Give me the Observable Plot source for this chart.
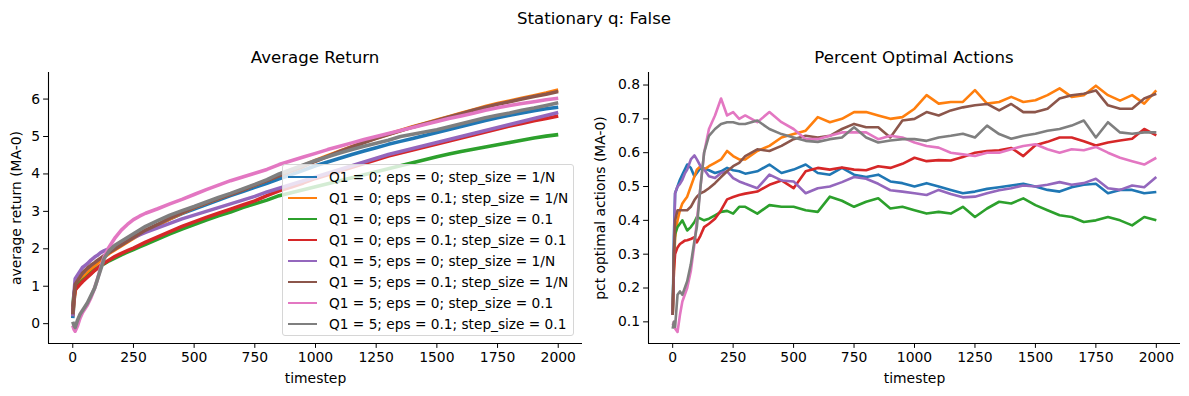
<!DOCTYPE html>
<html>
<head>
<meta charset="utf-8">
<script src="https://cdn.jsdelivr.net/npm/d3@7"></script>
<script src="https://cdn.jsdelivr.net/npm/@observablehq/plot@0.6"></script>
<style>
  html, body { margin: 0; padding: 0; background: #fff; }
  #fig { position: relative; width: 1189px; height: 396px; font-family: "DejaVu Sans", sans-serif; color: #000; overflow: hidden; }
  .abs { position: absolute; }
  .title { font-size: 16.6px; white-space: nowrap; transform: translate(-50%, -50%); }
  #legend { position: absolute; left: 282px; top: 164px; width: 290px; height: 170px; border: 1px solid #d6d6d6; border-radius: 3px; background: rgba(255,255,255,0.8); font-size: 13.7px; }
  .lrow { position: absolute; left: 0; height: 21px; display: flex; align-items: center; white-space: nowrap; }
  .lsw { width: 29px; height: 2px; margin-left: 5px; margin-right: 12px; }
</style>
</head>
<body>
<div id="fig"></div>
<script>
// ---------- data ----------
const suptitle = "Stationary q: False";
const panelTitles = ["Average Return", "Percent Optimal Actions"];
const yLabels = ["average return (MA-0)", "pct optimal actions (MA-0)"];
const xLabel = "timestep";
const seriesLabels = [
  "Q1 = 0; eps = 0; step_size = 1/N",
  "Q1 = 0; eps = 0.1; step_size = 1/N",
  "Q1 = 0; eps = 0; step_size = 0.1",
  "Q1 = 0; eps = 0.1; step_size = 0.1",
  "Q1 = 5; eps = 0; step_size = 1/N",
  "Q1 = 5; eps = 0.1; step_size = 1/N",
  "Q1 = 5; eps = 0; step_size = 0.1",
  "Q1 = 5; eps = 0.1; step_size = 0.1"
];
const seriesColors = ["#1f77b4", "#ff7f0e", "#2ca02c", "#d62728", "#9467bd", "#8c564b", "#e377c2", "#7f7f7f"];
const xTicks = [0, 250, 500, 750, 1000, 1250, 1500, 1750, 2000];
const yTicksReturn = [0, 1, 2, 3, 4, 5, 6];
const yTicksPct = [0.1, 0.2, 0.3, 0.4, 0.5, 0.6, 0.7, 0.8];

const timesteps = [0, 5, 10, 20, 30, 40, 50, 60, 75, 90, 100, 115, 130, 150, 175, 200, 225, 250, 275, 300,
  350, 400, 450, 500, 550, 600, 650, 700, 750, 800,
  850, 900, 950, 1000, 1050, 1100, 1150, 1200, 1250, 1300,
  1350, 1400, 1450, 1500, 1550, 1600, 1650, 1700, 1750, 1800,
  1850, 1900, 1950, 2000];

// average return
const retQ0e0N = [0.15, 0.6, 0.95, 1.05, 1.15, 1.25, 1.32, 1.4, 1.5, 1.58, 1.63, 1.72, 1.8, 1.9, 2.02, 2.12, 2.22, 2.32, 2.4, 2.48,
  2.64, 2.8, 2.94, 3.06, 3.18, 3.3, 3.42, 3.53, 3.64, 3.75,
  3.87, 3.98, 4.1, 4.22, 4.32, 4.42, 4.52, 4.61, 4.7, 4.79,
  4.87, 4.95, 5.03, 5.11, 5.19, 5.27, 5.35, 5.43, 5.5, 5.57,
  5.63, 5.69, 5.74, 5.78];
const retQ0e01N = [0.2, 0.6, 0.9, 1.0, 1.1, 1.2, 1.28, 1.35, 1.45, 1.55, 1.6, 1.7, 1.78, 1.88, 1.98, 2.08, 2.18, 2.28, 2.38, 2.48,
  2.64, 2.8, 2.95, 3.1, 3.22, 3.34, 3.46, 3.58, 3.7, 3.83,
  3.96, 4.09, 4.22, 4.36, 4.49, 4.61, 4.73, 4.85, 4.96, 5.06,
  5.16, 5.26, 5.35, 5.44, 5.53, 5.62, 5.71, 5.8, 5.88, 5.95,
  6.02, 6.09, 6.16, 6.24];
const retQ0e0s01 = [0.45, 0.8, 0.95, 1.0, 1.08, 1.15, 1.2, 1.26, 1.35, 1.43, 1.48, 1.55, 1.6, 1.68, 1.76, 1.84, 1.91, 1.98, 2.05, 2.12,
  2.26, 2.4, 2.53, 2.65, 2.77, 2.88, 2.98, 3.1, 3.2, 3.3,
  3.42, 3.5, 3.58, 3.66, 3.74, 3.82, 3.9, 3.98, 4.06, 4.14,
  4.22, 4.3, 4.38, 4.46, 4.53, 4.6, 4.66, 4.72, 4.78, 4.84,
  4.9, 4.96, 5.01, 5.05];
const retQ0e01s01 = [0.35, 0.7, 0.9, 0.98, 1.05, 1.12, 1.18, 1.24, 1.33, 1.42, 1.47, 1.55, 1.62, 1.7, 1.8, 1.88, 1.95, 2.02, 2.1, 2.18,
  2.32, 2.46, 2.6, 2.72, 2.84, 2.95, 3.06, 3.17, 3.28, 3.42,
  3.55, 3.65, 3.76, 3.88, 3.98, 4.08, 4.18, 4.28, 4.38, 4.48,
  4.56, 4.64, 4.72, 4.8, 4.88, 4.96, 5.04, 5.12, 5.2, 5.28,
  5.35, 5.42, 5.48, 5.55];
const retQ5e0N = [0.2, 0.8, 1.2, 1.3, 1.4, 1.5, 1.55, 1.6, 1.7, 1.78, 1.82, 1.9, 1.95, 2.0, 2.08, 2.15, 2.22, 2.3, 2.37, 2.44,
  2.56, 2.68, 2.8, 2.9, 3.0, 3.1, 3.2, 3.3, 3.4, 3.52,
  3.62, 3.72, 3.82, 3.92, 4.02, 4.12, 4.22, 4.32, 4.42, 4.52,
  4.6, 4.68, 4.76, 4.84, 4.92, 5.0, 5.08, 5.16, 5.24, 5.32,
  5.4, 5.48, 5.56, 5.64];
const retQ5e01N = [0.25, 0.7, 1.05, 1.15, 1.25, 1.35, 1.42, 1.48, 1.56, 1.63, 1.68, 1.75, 1.82, 1.9, 2.0, 2.1, 2.2, 2.3, 2.4, 2.5,
  2.65, 2.82, 2.96, 3.1, 3.22, 3.34, 3.45, 3.57, 3.7, 3.82,
  3.95, 4.08, 4.2, 4.34, 4.47, 4.6, 4.72, 4.84, 4.95, 5.05,
  5.15, 5.25, 5.34, 5.43, 5.52, 5.61, 5.7, 5.78, 5.86, 5.93,
  6.0, 6.07, 6.13, 6.2];
const retQ5e0s01 = [-0.05, -0.15, -0.2, -0.05, 0.15, 0.3, 0.4, 0.5, 0.7, 0.95, 1.15, 1.5, 1.8, 2.05, 2.3, 2.5, 2.65, 2.78, 2.87, 2.95,
  3.07, 3.2, 3.32, 3.45, 3.58, 3.7, 3.82, 3.92, 4.02, 4.12,
  4.25, 4.35, 4.45, 4.55, 4.65, 4.74, 4.83, 4.92, 5.0, 5.08,
  5.16, 5.24, 5.32, 5.4, 5.48, 5.55, 5.62, 5.7, 5.77, 5.83,
  5.88, 5.93, 5.98, 6.02];
const retQ5e01s01 = [0.05, -0.05, -0.1, 0.1, 0.25, 0.35, 0.45, 0.55, 0.75, 0.95, 1.15, 1.45, 1.75, 1.95, 2.1, 2.2, 2.3, 2.4, 2.5, 2.6,
  2.75, 2.9, 3.02, 3.13, 3.25, 3.37, 3.48, 3.6, 3.72, 3.85,
  4.0, 4.12, 4.24, 4.36, 4.46, 4.56, 4.65, 4.74, 4.82, 4.9,
  5.0, 5.06, 5.12, 5.18, 5.26, 5.34, 5.42, 5.5, 5.57, 5.63,
  5.7, 5.76, 5.83, 5.9];

// percent optimal actions
const pctQ0e0N = [0.12, 0.35, 0.48, 0.5, 0.52, 0.535, 0.55, 0.565, 0.555, 0.53, 0.54, 0.555, 0.553, 0.548, 0.54, 0.545, 0.555, 0.548, 0.545, 0.538,
  0.545, 0.565, 0.54, 0.55, 0.565, 0.54, 0.535, 0.555, 0.535, 0.528,
  0.535, 0.515, 0.51, 0.5, 0.51, 0.5, 0.49, 0.48, 0.485, 0.493,
  0.498, 0.503, 0.508, 0.5, 0.49, 0.485, 0.498, 0.505, 0.508, 0.48,
  0.49, 0.49, 0.48, 0.484];
const pctQ0e01N = [0.12, 0.25, 0.35, 0.4, 0.43, 0.45, 0.46, 0.47, 0.5, 0.53, 0.55, 0.56, 0.55, 0.56, 0.57, 0.58, 0.605, 0.59, 0.58, 0.58,
  0.605, 0.62, 0.645, 0.655, 0.665, 0.705, 0.69, 0.7, 0.72, 0.72,
  0.71, 0.7, 0.705, 0.73, 0.77, 0.745, 0.75, 0.75, 0.785, 0.745,
  0.75, 0.765, 0.75, 0.755, 0.77, 0.79, 0.765, 0.77, 0.798, 0.77,
  0.754, 0.77, 0.745, 0.784];
const pctQ0e0s01 = [0.12, 0.3, 0.36, 0.38, 0.39, 0.4, 0.385, 0.37, 0.38, 0.395, 0.41, 0.405, 0.4, 0.405, 0.415, 0.425, 0.428, 0.42, 0.44, 0.44,
  0.42, 0.445, 0.44, 0.44, 0.43, 0.425, 0.47, 0.458, 0.44, 0.455,
  0.465, 0.435, 0.44, 0.43, 0.42, 0.425, 0.42, 0.44, 0.41, 0.435,
  0.455, 0.45, 0.465, 0.445, 0.43, 0.415, 0.41, 0.395, 0.4, 0.41,
  0.4, 0.385, 0.41, 0.4];
const pctQ0e01s01 = [0.12, 0.25, 0.3, 0.32, 0.33, 0.335, 0.34, 0.341, 0.345, 0.35, 0.335, 0.355, 0.38, 0.39, 0.405, 0.43, 0.462, 0.469, 0.475, 0.479,
  0.485, 0.505, 0.518, 0.495, 0.545, 0.555, 0.55, 0.556, 0.55, 0.548,
  0.56, 0.555, 0.567, 0.585, 0.575, 0.578, 0.577, 0.587, 0.6, 0.605,
  0.607, 0.614, 0.59, 0.622, 0.632, 0.645, 0.645, 0.634, 0.621, 0.63,
  0.636, 0.641, 0.67, 0.651];
const pctQ5e0N = [0.12, 0.3, 0.48, 0.5, 0.508, 0.52, 0.538, 0.55, 0.58, 0.592, 0.58, 0.56, 0.55, 0.53, 0.525, 0.54, 0.545, 0.525, 0.515, 0.508,
  0.495, 0.535, 0.518, 0.515, 0.48, 0.495, 0.5, 0.513, 0.528, 0.523,
  0.508, 0.489, 0.485, 0.48, 0.475, 0.49, 0.478, 0.468, 0.47, 0.48,
  0.489, 0.495, 0.503, 0.5, 0.505, 0.513, 0.505, 0.51, 0.523, 0.495,
  0.49, 0.503, 0.498, 0.528];
const pctQ5e01N = [0.12, 0.3, 0.4, 0.43, 0.43, 0.43, 0.43, 0.43, 0.44, 0.46, 0.47, 0.48, 0.485, 0.495, 0.51, 0.528, 0.545, 0.56, 0.57, 0.59,
  0.61, 0.605, 0.62, 0.64, 0.65, 0.645, 0.65, 0.67, 0.685, 0.675,
  0.675, 0.645, 0.695, 0.7, 0.72, 0.71, 0.725, 0.734, 0.74, 0.744,
  0.725, 0.744, 0.72, 0.72, 0.73, 0.76, 0.77, 0.774, 0.784, 0.74,
  0.73, 0.73, 0.76, 0.774];
const pctQ5e0s01 = [0.09, 0.1, 0.08, 0.07, 0.12, 0.16, 0.18, 0.2, 0.25, 0.33, 0.4, 0.5, 0.6, 0.67, 0.71, 0.76, 0.71, 0.72, 0.7, 0.71,
  0.69, 0.72, 0.69, 0.67, 0.64, 0.64, 0.65, 0.66, 0.66, 0.66,
  0.64, 0.65, 0.645, 0.63, 0.62, 0.615, 0.6, 0.595, 0.59, 0.6,
  0.6, 0.61, 0.62, 0.625, 0.61, 0.6, 0.61, 0.607, 0.617, 0.6,
  0.585, 0.575, 0.565, 0.585];
const pctQ5e01s01 = [0.08, 0.1, 0.085, 0.18, 0.19, 0.18, 0.2, 0.22, 0.27, 0.34, 0.38, 0.5, 0.6, 0.65, 0.67, 0.685, 0.69, 0.69, 0.685, 0.685,
  0.695, 0.67, 0.655, 0.645, 0.635, 0.632, 0.64, 0.645, 0.675, 0.645,
  0.63, 0.636, 0.64, 0.64, 0.635, 0.645, 0.65, 0.656, 0.645, 0.68,
  0.655, 0.641, 0.65, 0.656, 0.665, 0.67, 0.68, 0.695, 0.645, 0.69,
  0.66, 0.656, 0.66, 0.66];

const returnSeries = [retQ0e0N, retQ0e01N, retQ0e0s01, retQ0e01s01, retQ5e0N, retQ5e01N, retQ5e0s01, retQ5e01s01];
const pctSeries = [pctQ0e0N, pctQ0e01N, pctQ0e0s01, pctQ0e01s01, pctQ5e0N, pctQ5e01N, pctQ5e0s01, pctQ5e01s01];

function toRows(seriesList) {
  const rows = [];
  seriesList.forEach((vals, i) => timesteps.forEach((t, j) => rows.push({t, v: vals[j], s: seriesLabels[i]})));
  return rows;
}

// ---------- drawing ----------
const fig = document.getElementById("fig");
const FONT = "DejaVu Sans";

function panel({rows, yDomain, yTicks, yFormat, yLabel, left, width, marginLeft, marginRight, strokeWidth, labelOffsetY}) {
  const xDomain = [-100, 2100];
  const svg = Plot.plot({
    width, height: 396,
    marginLeft, marginRight, marginTop: 72, marginBottom: 53,
    style: {fontFamily: FONT, fontSize: "13.9px", color: "#000", background: "transparent", overflow: "visible"},
    x: {domain: xDomain},
    y: {domain: yDomain},
    color: {domain: seriesLabels, range: seriesColors},
    marks: [
      Plot.line(rows, {x: "t", y: "v", z: "s", stroke: "s", strokeWidth, strokeLinejoin: "round", strokeLinecap: "butt"}),
      Plot.ruleX([xDomain[0]], {stroke: "#000", strokeWidth: 1.1}),
      Plot.ruleY([yDomain[0]], {stroke: "#000", strokeWidth: 1.1}),
      Plot.axisX({ticks: xTicks, tickFormat: d3.format("d"), tickSize: 4.9, tickPadding: 3.5, stroke: "#000",
        label: xLabel, labelAnchor: "center", labelArrow: "none", labelOffset: 39}),
      Plot.axisY({ticks: yTicks, tickFormat: yFormat, tickSize: 4.9, tickPadding: 3.5, stroke: "#000",
        label: yLabel, labelAnchor: "center", labelArrow: "none", labelOffset: labelOffsetY})
    ]
  });
  svg.classList.add("abs");
  svg.style.left = left + "px";
  svg.style.top = "0px";
  fig.appendChild(svg);
}

panel({rows: toRows(returnSeries), yDomain: [-0.53, 6.71], yTicks: yTicksReturn, yFormat: d3.format("d"),
  yLabel: yLabels[0], left: 0, width: 594, marginLeft: 48, marginRight: 12, strokeWidth: 3.6, labelOffsetY: 37});
panel({rows: toRows(pctSeries), yDomain: [0.036, 0.837], yTicks: yTicksPct, yFormat: d3.format(".1f"),
  yLabel: yLabels[1], left: 594, width: 595, marginLeft: 54, marginRight: 9, strokeWidth: 2.6, labelOffsetY: 53});

function addText(txt, x, y, cls) {
  const d = document.createElement("div");
  d.className = "abs " + cls;
  d.style.left = x + "px";
  d.style.top = y + "px";
  d.textContent = txt;
  fig.appendChild(d);
}
addText(suptitle, 594, 18, "title");
addText(panelTitles[0], 315, 57, "title");
addText(panelTitles[1], 914, 57, "title");

// legend
const leg = document.createElement("div");
leg.id = "legend";
seriesLabels.forEach((lab, i) => {
  const r = document.createElement("div");
  r.className = "lrow";
  r.style.top = (1 + 21 * i) + "px";
  const sw = document.createElement("div");
  sw.className = "lsw";
  sw.style.background = seriesColors[i];
  const tx = document.createElement("span");
  tx.textContent = lab;
  r.appendChild(sw); r.appendChild(tx);
  leg.appendChild(r);
});
fig.appendChild(leg);
</script>
</body>
</html>
